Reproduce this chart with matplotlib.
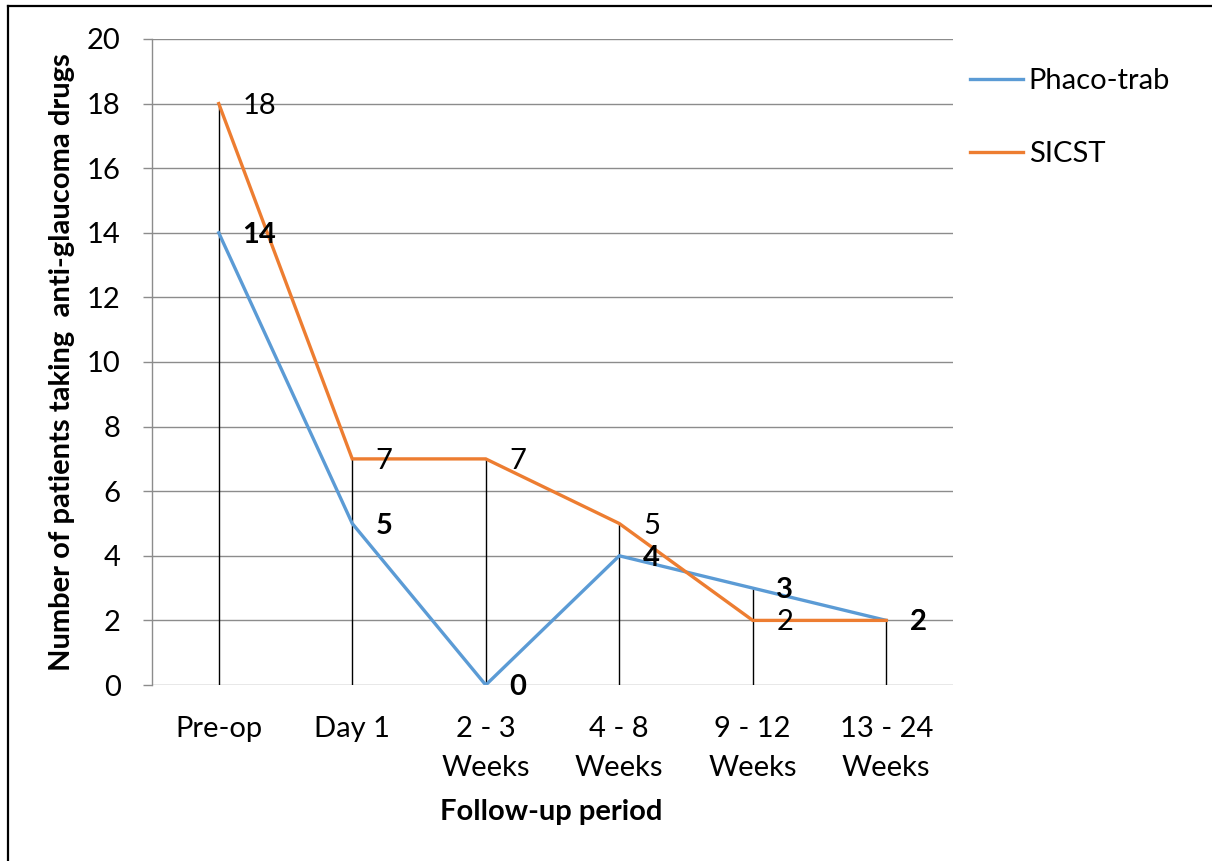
#!/usr/bin/env python3
import matplotlib
matplotlib.use("Agg")
import matplotlib.pyplot as plt
from matplotlib.lines import Line2D

periods = ["Pre-op", "Day 1", "2 - 3\nWeeks", "4 - 8\nWeeks", "9 - 12\nWeeks", "13 - 24\nWeeks"]
phaco_trab = [14, 5, 0, 4, 3, 2]
sicst = [18, 7, 7, 5, 2, 2]

BLUE = "#5B9BD5"
ORANGE = "#ED7D31"
GRID = "#8C8C8C"
FS = 21


def main():
    plt.rcParams["font.family"] = ["Lato", "DejaVu Sans"]
    fig = plt.figure(figsize=(12.12, 8.61), dpi=100)
    ax = fig.add_axes([152 / 1212, 1 - 685 / 861, (953 - 152) / 1212, (685 - 39) / 861])

    x = list(range(len(periods)))

    # drop lines from the highest point down to zero
    tops = [max(a, b) for a, b in zip(phaco_trab, sicst)]
    ax.vlines(x, 0, tops, color="black", lw=1.0, zorder=2)

    ax.plot(x, phaco_trab, color=BLUE, lw=2.4, label="Phaco-trab", zorder=3,
            solid_joinstyle="miter")
    ax.plot(x, sicst, color=ORANGE, lw=2.4, label="SICST", zorder=4,
            solid_joinstyle="miter")

    for xi, v in zip(x, sicst):
        ax.annotate(str(v), (xi, v), xytext=(17, -1.5), textcoords="offset points",
                    ha="left", va="center", fontsize=FS, zorder=5)
    for xi, v in zip(x, phaco_trab):
        ax.annotate(str(v), (xi, v), xytext=(17, -1.5), textcoords="offset points",
                    ha="left", va="center", fontsize=FS, fontweight="bold", zorder=6)

    ax.set_xlim(-0.5, 5.5)
    ax.set_ylim(0, 20)
    ax.set_yticks(range(0, 21, 2))
    ax.set_xticks(x)
    ax.set_xticklabels(periods, fontsize=FS, linespacing=1.62, va="top")
    ax.tick_params(axis="x", length=0, pad=22)
    ax.tick_params(axis="y", length=6.5, color=GRID, width=1, labelsize=FS, pad=16)

    ax.grid(axis="y", color=GRID, lw=1)
    ax.set_axisbelow(True)
    for side in ["top", "right", "bottom"]:
        ax.spines[side].set_visible(False)
    ax.spines["left"].set_color(GRID)
    ax.spines["left"].set_linewidth(1)

    ax.set_ylabel("Number of patients taking  anti-glaucoma drugs", fontsize=FS,
                  fontweight="bold")
    ax.yaxis.set_label_coords(-77 / 801, 0.5)
    fig.text(551 / 1212, 1 - 812 / 861, "Follow-up period", ha="center", va="center",
             fontsize=FS, fontweight="bold")

    ax.legend(loc="upper left", bbox_to_anchor=(944 / 1212, 1 - 42 / 861),
              bbox_transform=fig.transFigure, frameon=False, fontsize=FS,
              handlelength=1.8, handletextpad=0.2, labelspacing=1.6)

    # outer frame (only left and top visible)
    fig.add_artist(Line2D([8 / 1212, 8 / 1212], [0, 1 - 6 / 861], color="black",
                          lw=1.6, transform=fig.transFigure))
    fig.add_artist(Line2D([8 / 1212, 1], [1 - 6 / 861, 1 - 6 / 861], color="black",
                          lw=1.6, transform=fig.transFigure))

    fig.savefig("out.png", dpi=100, facecolor="white")


if __name__ == "__main__":
    main()
